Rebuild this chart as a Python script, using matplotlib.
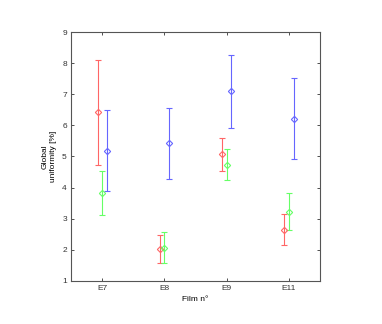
import matplotlib
matplotlib.use("Agg")
import matplotlib.pyplot as plt
import numpy as np

films = ["E7", "E8", "E9", "E11"]
red_vals = [6.42, 2.02, 5.07, 2.65]
red_err = [1.68, 0.45, 0.53, 0.49]
green_vals = [3.82, 2.07, 4.74, 3.23]
green_err = [0.71, 0.50, 0.50, 0.60]
blue_vals = [5.19, 5.42, 7.10, 6.22]
blue_err = [1.29, 1.15, 1.17, 1.30]

plt.rcParams['font.family'] = ['Liberation Sans', 'DejaVu Sans']
fig = plt.figure(figsize=(3.82, 3.24), dpi=100)
ax = fig.add_axes([0.186, 0.133, 0.652, 0.768])

x = np.arange(1, len(films) + 1)
off = 0.075
series = [
    (red_vals, red_err, -off, (1.0, 0.4, 0.4)),
    (green_vals, green_err, 0.0, (0.4, 1.0, 0.4)),
    (blue_vals, blue_err, off, (0.4, 0.4, 1.0)),
]
for vals, err, dx, col in series:
    ax.errorbar(x + dx, vals, yerr=err, fmt='D', color=col, ecolor=col,
                markerfacecolor='none', markeredgecolor=col, markersize=3.2,
                markeredgewidth=0.8, elinewidth=0.8, capsize=2, capthick=0.8)

ax.set_xlim(0.5, 4.5)
ax.set_ylim(1, 9)
ax.set_xticks(x)
ax.set_xticklabels(films)
ax.set_yticks(range(1, 10))
ax.tick_params(direction='in', length=2.5, width=0.6, labelsize=6, colors='#333333',
               top=True, right=True, pad=3)
for s in ax.spines.values():
    s.set_color('#555555')
    s.set_linewidth(0.8)
ax.set_xlabel("Film n°", fontsize=6, labelpad=3)
ax.set_ylabel("Global\nuniformity [%]", fontsize=6, labelpad=4)

fig.savefig("out.png", dpi=100)
